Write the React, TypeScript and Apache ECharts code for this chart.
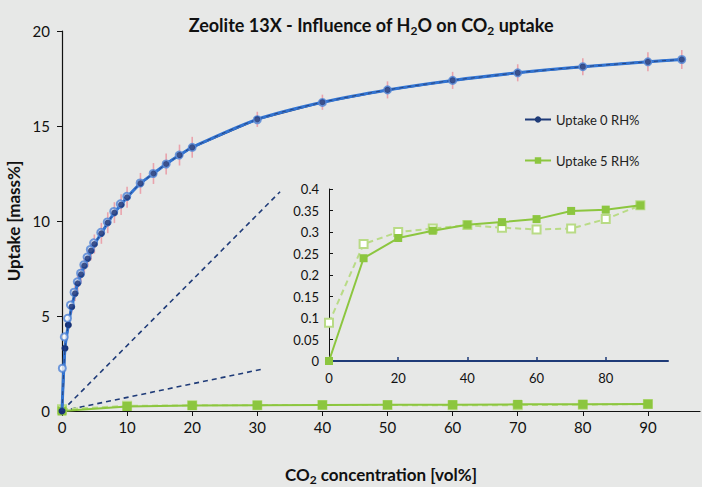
import React, { useEffect, useRef } from "react";
import * as echarts from "echarts";

// CO2 uptake at 0 RH% (adsorption, filled circles)
const dryX = [0, 0.46, 0.97, 1.49, 2.0, 2.41, 2.92, 3.43, 3.95, 4.46, 4.97, 6.05, 7.03, 8.05, 9.08, 10, 12.05, 14.05, 16, 18.05, 20, 30, 40, 50, 60, 70, 80, 90, 95.2];
const dryY = [0, 3.3, 4.53, 5.49, 6.19, 6.72, 7.19, 7.65, 8.03, 8.44, 8.79, 9.35, 9.91, 10.44, 10.86, 11.25, 11.98, 12.5, 13.0, 13.47, 13.88, 15.35, 16.25, 16.9, 17.4, 17.8, 18.12, 18.38, 18.5];
const dryErr = [0, 0.3, 0.3, 0.35, 0.4, 0.4, 0.45, 0.45, 0.45, 0.5, 0.5, 0.55, 0.55, 0.55, 0.55, 0.55, 0.55, 0.55, 0.55, 0.55, 0.55, 0.4, 0.4, 0.45, 0.45, 0.45, 0.45, 0.5, 0.5];

// CO2 uptake at 0 RH% (second run, open circles)
const dryOpenX = [0.05, 0.35, 0.85, 1.3, 1.85, 2.35, 2.85, 3.35, 3.85, 4.35, 4.85, 5.95, 6.95, 7.95, 8.95, 9.95, 12, 14, 16, 18, 20, 30, 40, 50, 60, 70, 80, 90, 95.2];
const dryOpenY = [2.25, 3.9, 4.88, 5.58, 6.25, 6.8, 7.25, 7.7, 8.1, 8.5, 8.85, 9.4, 9.95, 10.5, 10.9, 11.3, 12.0, 12.5, 13.0, 13.47, 13.88, 15.33, 16.24, 16.9, 17.4, 17.8, 18.12, 18.38, 18.5];

// CO2 uptake at 5 RH%
const wetX = [0, 10, 20, 30, 40, 50, 60, 70, 80, 90];
const wetY = [0, 0.239, 0.286, 0.303, 0.317, 0.323, 0.33, 0.349, 0.352, 0.362];
const wetOpenY = [0.089, 0.272, 0.3, 0.308, 0.316, 0.31, 0.306, 0.308, 0.33, 0.362];

// zoom indicator lines (main axes)
const zoomLineA = [[0, 0], [33.5, 11.54]];
const zoomLineB = [[0, 0], [30.6, 2.19]];

const xTicksMain = [0, 10, 20, 30, 40, 50, 60, 70, 80, 90];
const xTicksInset = [0, 20, 40, 60, 80];

const FONT = "Lato";
const NAVY = "#1F3B78";
const BLUE = "#3274D2";
const GREEN = "#8CC63F";
const LGREEN = "#B9DB86";
const PINK = "#E9A3AC";

function pairs(xs: number[], ys: number[]) {
  return xs.map((x, i) => [x, ys[i]]);
}

export default function App() {
  const ref = useRef<HTMLDivElement>(null);
  useEffect(() => {
    const chart = echarts.init(ref.current!, null, { renderer: "svg" });
    const sub = { fontSize: 12, fontWeight: "bold", fontFamily: FONT, color: "#111", verticalAlign: "bottom", lineHeight: 9 };
    const option: any = {
      animation: false,
      backgroundColor: "#E7E8E7",
      title: {
        text: "Zeolite 13X - Influence of H{s|2}O on CO{s|2} uptake",
        left: 366,
        textAlign: "center",
        top: 9,
        textStyle: {
          fontFamily: FONT,
          fontWeight: "bold",
          fontSize: 18,
          lineHeight: 22,
          color: "#111",
          rich: {
            s: sub,
          },
        },
      },
      legend: {
        orient: "vertical",
        left: 519,
        top: 108,
        itemGap: 28,
        itemWidth: 26,
        itemHeight: 8,
        data: ["Uptake 0 RH%", "Uptake 5 RH%"],
        textStyle: { fontFamily: FONT, fontSize: 13, color: "#222" },
      },
      grid: [
        { left: 62, right: 2, top: 31, bottom: 76, outerBoundsMode: "none", containLabel: false },
        { left: 329, top: 189, width: 339, height: 172, outerBoundsMode: "none", containLabel: false },
      ],
      xAxis: [
        {
          gridIndex: 0,
          type: "value",
          min: 0,
          max: 98,
          interval: 10,
          name: "CO{s|2} concentration [vol%]",
          nameLocation: "middle",
          nameGap: 52,
          nameTextStyle: {
            fontFamily: FONT,
            fontWeight: "bold",
            fontSize: 17,
            lineHeight: 22,
            color: "#111",
            rich: { s: sub },
          },
          splitLine: { show: false },
          axisLine: { lineStyle: { color: "#111", width: 1.2 } },
          axisTick: { length: 5, lineStyle: { color: "#111" }, customValues: xTicksMain },
          axisLabel: { fontFamily: FONT, fontSize: 15, color: "#111", margin: 8, customValues: xTicksMain },
        },
        {
          gridIndex: 1,
          type: "value",
          min: 0,
          max: 98,
          interval: 20,
          splitLine: { show: false },
          axisLine: { lineStyle: { color: NAVY, width: 2 } },
          axisTick: { inside: true, length: 4, lineStyle: { color: NAVY, width: 1.5 }, customValues: xTicksInset },
          axisLabel: { fontFamily: FONT, fontSize: 13, color: "#111", margin: 10, customValues: xTicksInset },
        },
      ],
      yAxis: [
        {
          gridIndex: 0,
          type: "value",
          min: 0,
          max: 20,
          interval: 5,
          name: "Uptake [mass%]",
          nameLocation: "middle",
          nameGap: 31,
          nameTextStyle: { fontFamily: FONT, fontWeight: "bold", fontSize: 17, color: "#111" },
          splitLine: { show: false },
          axisLine: { show: true, lineStyle: { color: "#111", width: 1.2 } },
          axisTick: { show: true, length: 5, lineStyle: { color: "#111" } },
          axisLabel: { fontFamily: FONT, fontSize: 15, color: "#111", margin: 12 },
        },
        {
          gridIndex: 1,
          type: "value",
          min: 0,
          max: 0.4,
          interval: 0.05,
          splitLine: { show: false },
          axisLine: { show: true, lineStyle: { color: "#111", width: 1 } },
          axisTick: { show: true, inside: true, length: 4, lineStyle: { color: "#111" } },
          axisLabel: { fontFamily: FONT, fontSize: 13, color: "#111", margin: 10 },
        },
      ],
      series: [
        {
          type: "custom",
          xAxisIndex: 0,
          yAxisIndex: 0,
          silent: true,
          data: dryX.map((x, i) => [x, dryY[i], dryErr[i]]),
          renderItem: (params: any, api: any) => {
            const x = api.value(0);
            const y = api.value(1);
            const e = api.value(2);
            const p1 = api.coord([x, y - e]);
            const p2 = api.coord([x, y + e]);
            return {
              type: "line",
              shape: { x1: p1[0], y1: p1[1], x2: p2[0], y2: p2[1] },
              style: { stroke: PINK, lineWidth: 1.6 },
            };
          },
          z: 1,
        },
        {
          name: "zoomA",
          type: "line",
          data: zoomLineA,
          symbol: "none",
          lineStyle: { color: NAVY, width: 1.6, type: [5, 4] },
          z: 1,
        },
        {
          name: "zoomB",
          type: "line",
          data: zoomLineB,
          symbol: "none",
          lineStyle: { color: NAVY, width: 1.6, type: [5, 4] },
          z: 1,
        },
        {
          name: "Uptake 5 RH% open",
          type: "line",
          data: pairs(wetX, wetOpenY),
          symbol: "emptyRect",
          symbolSize: 8,
          itemStyle: { color: LGREEN, borderWidth: 1.5 },
          lineStyle: { color: LGREEN, width: 2, type: [6, 4] },
          z: 2,
        },
        {
          name: "Uptake 5 RH%",
          type: "line",
          data: pairs(wetX, wetY),
          symbol: "rect",
          symbolSize: 9,
          itemStyle: { color: GREEN },
          lineStyle: { color: GREEN, width: 2 },
          z: 3,
        },
        {
          name: "Uptake 0 RH%",
          type: "line",
          data: pairs(dryX, dryY),
          symbol: "circle",
          symbolSize: 7,
          itemStyle: { color: NAVY },
          lineStyle: { color: NAVY, width: 2 },
          z: 3,
        },
        {
          name: "fit",
          type: "line",
          data: pairs(dryX, dryY),
          smooth: 0.3,
          symbol: "none",
          lineStyle: { color: BLUE, width: 3 },
          z: 4,
        },
        {
          name: "fitdash",
          type: "line",
          data: pairs(dryX, dryY),
          smooth: 0.3,
          symbol: "none",
          lineStyle: { color: "#2A4680", width: 1, type: [4, 4] },
          z: 5,
        },
        {
          name: "open0",
          type: "scatter",
          data: pairs(dryOpenX, dryOpenY),
          symbol: "emptyCircle",
          symbolSize: 7,
          itemStyle: { color: "#4D82D6", borderWidth: 1 },
          z: 6,
        },
        {
          name: "dots0",
          type: "scatter",
          data: pairs(dryX, dryY),
          symbol: "circle",
          symbolSize: 6,
          itemStyle: { color: "#142D73" },
          z: 7,
        },
        {
          name: "inset open",
          type: "line",
          xAxisIndex: 1,
          yAxisIndex: 1,
          data: pairs(wetX, wetOpenY),
          symbol: "emptyRect",
          symbolSize: 8,
          itemStyle: { color: LGREEN, borderWidth: 1.5 },
          lineStyle: { color: LGREEN, width: 2, type: [6, 4] },
          z: 2,
        },
        {
          name: "inset filled",
          type: "line",
          xAxisIndex: 1,
          yAxisIndex: 1,
          data: pairs(wetX, wetY),
          symbol: "rect",
          symbolSize: 8,
          itemStyle: { color: GREEN },
          lineStyle: { color: GREEN, width: 2 },
          z: 3,
        },
      ],
    };
    chart.setOption(option);
    return () => chart.dispose();
  }, []);
  return <div ref={ref} style={{ position: "fixed", left: 0, top: 0, width: 702, height: 487 }} />;
}
